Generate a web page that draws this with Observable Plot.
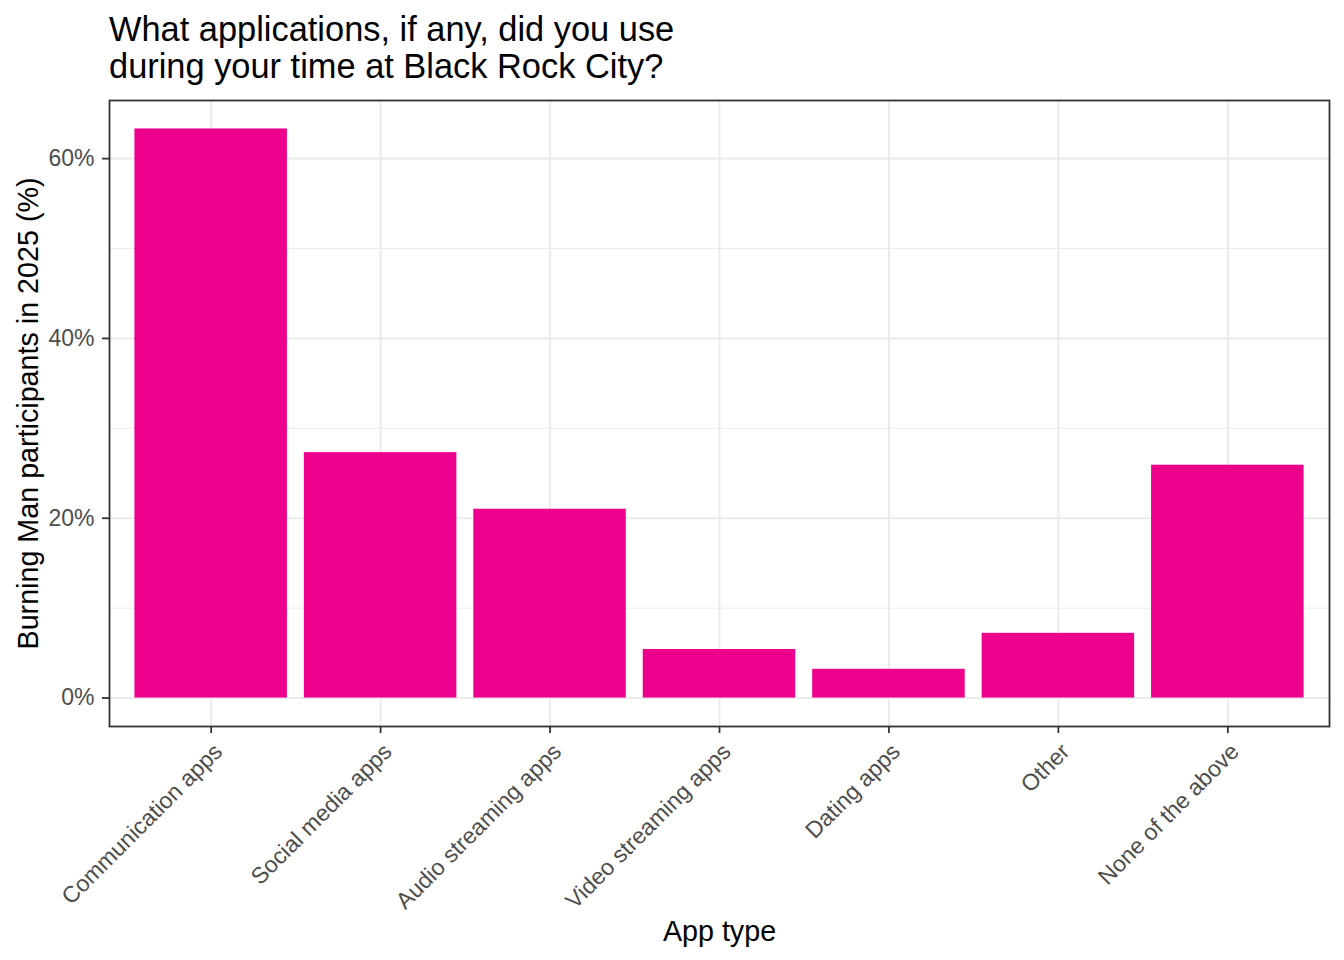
<!DOCTYPE html>
<html>
<head>
<meta charset="utf-8">
<script src="https://cdn.jsdelivr.net/npm/d3@7"></script>
<script src="https://cdn.jsdelivr.net/npm/@observablehq/plot@0.6"></script>
<style>
  html, body { margin: 0; padding: 0; background: #fff; }
  body { width: 1344px; height: 960px; overflow: hidden; font-family: "Liberation Sans", Arial, sans-serif; }
  #title { box-sizing: border-box; height: 90px; padding: 11px 0 0 109px; font-size: 34.4px; line-height: 36.6px; color: #000; }
  #chart svg { display: block; }
</style>
</head>
<body>
<div id="title">What applications, if any, did you use<br>during your time at Black Rock City?</div>
<div id="chart"></div>
<script>
const categories = ["Communication apps", "Social media apps", "Audio streaming apps", "Video streaming apps", "Dating apps", "Other", "None of the above"];
const percents = [63.3, 27.3, 21.0, 5.4, 3.2, 7.2, 25.9];
const majorTicks = [0, 20, 40, 60];
const minorTicks = [10, 30, 50];

const data = categories.map((c, i) => ({app: c, pct: percents[i]}));
const maxV = d3.max(percents);
const pad = maxV * 0.05;

const grid = "#ebebeb";
const dark = "#333333";

const chart = Plot.plot({
  width: 1344,
  height: 870,
  marginLeft: 109,
  marginRight: 15,
  marginTop: 10,
  marginBottom: 234,
  style: {fontFamily: "'Liberation Sans', Arial, sans-serif", background: "#fff"},
  x: {type: "band", domain: categories, paddingInner: 0.1, paddingOuter: 0.15, round: false},
  y: {domain: [-pad, maxV + pad]},
  marks: [
    Plot.gridY(minorTicks, {stroke: grid, strokeOpacity: 1, strokeWidth: 1}),
    Plot.gridY(majorTicks, {stroke: grid, strokeOpacity: 1, strokeWidth: 2}),
    Plot.gridX(categories, {stroke: grid, strokeOpacity: 1, strokeWidth: 2}),
    Plot.barY(data, {x: "app", y1: 0, y2: "pct", fill: "#EC008C"}),
    Plot.axisY(majorTicks, {
      tickSize: 7, tickPadding: 8, stroke: dark, strokeWidth: 1.8,
      tickFormat: d => d + "%", fontSize: 23, fill: "#4d4d4d",
      label: null
    }),
    Plot.axisY({
      ticks: [], tickSize: 0,
      label: "Burning Man participants in 2025 (%)", labelAnchor: "center", labelArrow: "none",
      labelOffset: 92, fontSize: 28.7, fill: "#000"
    }),
    Plot.axisX(categories, {
      tickSize: 7, stroke: dark, strokeWidth: 1.8,
      tickFormat: () => "", label: null
    }),
    Plot.axisX(categories, {
      tickSize: 0, tickPadding: 15,
      tickRotate: -45, textAnchor: "end", lineAnchor: "top", dx: 1,
      fontSize: 23, fill: "#4d4d4d", label: null
    }),
    Plot.axisX({
      ticks: [], tickSize: 0,
      label: "App type", labelAnchor: "center", labelArrow: "none",
      labelOffset: 214, fontSize: 28.7, fill: "#000"
    }),
    Plot.frame({stroke: dark, strokeWidth: 1.8})
  ]
});
document.getElementById("chart").appendChild(chart);
</script>
</body>
</html>
